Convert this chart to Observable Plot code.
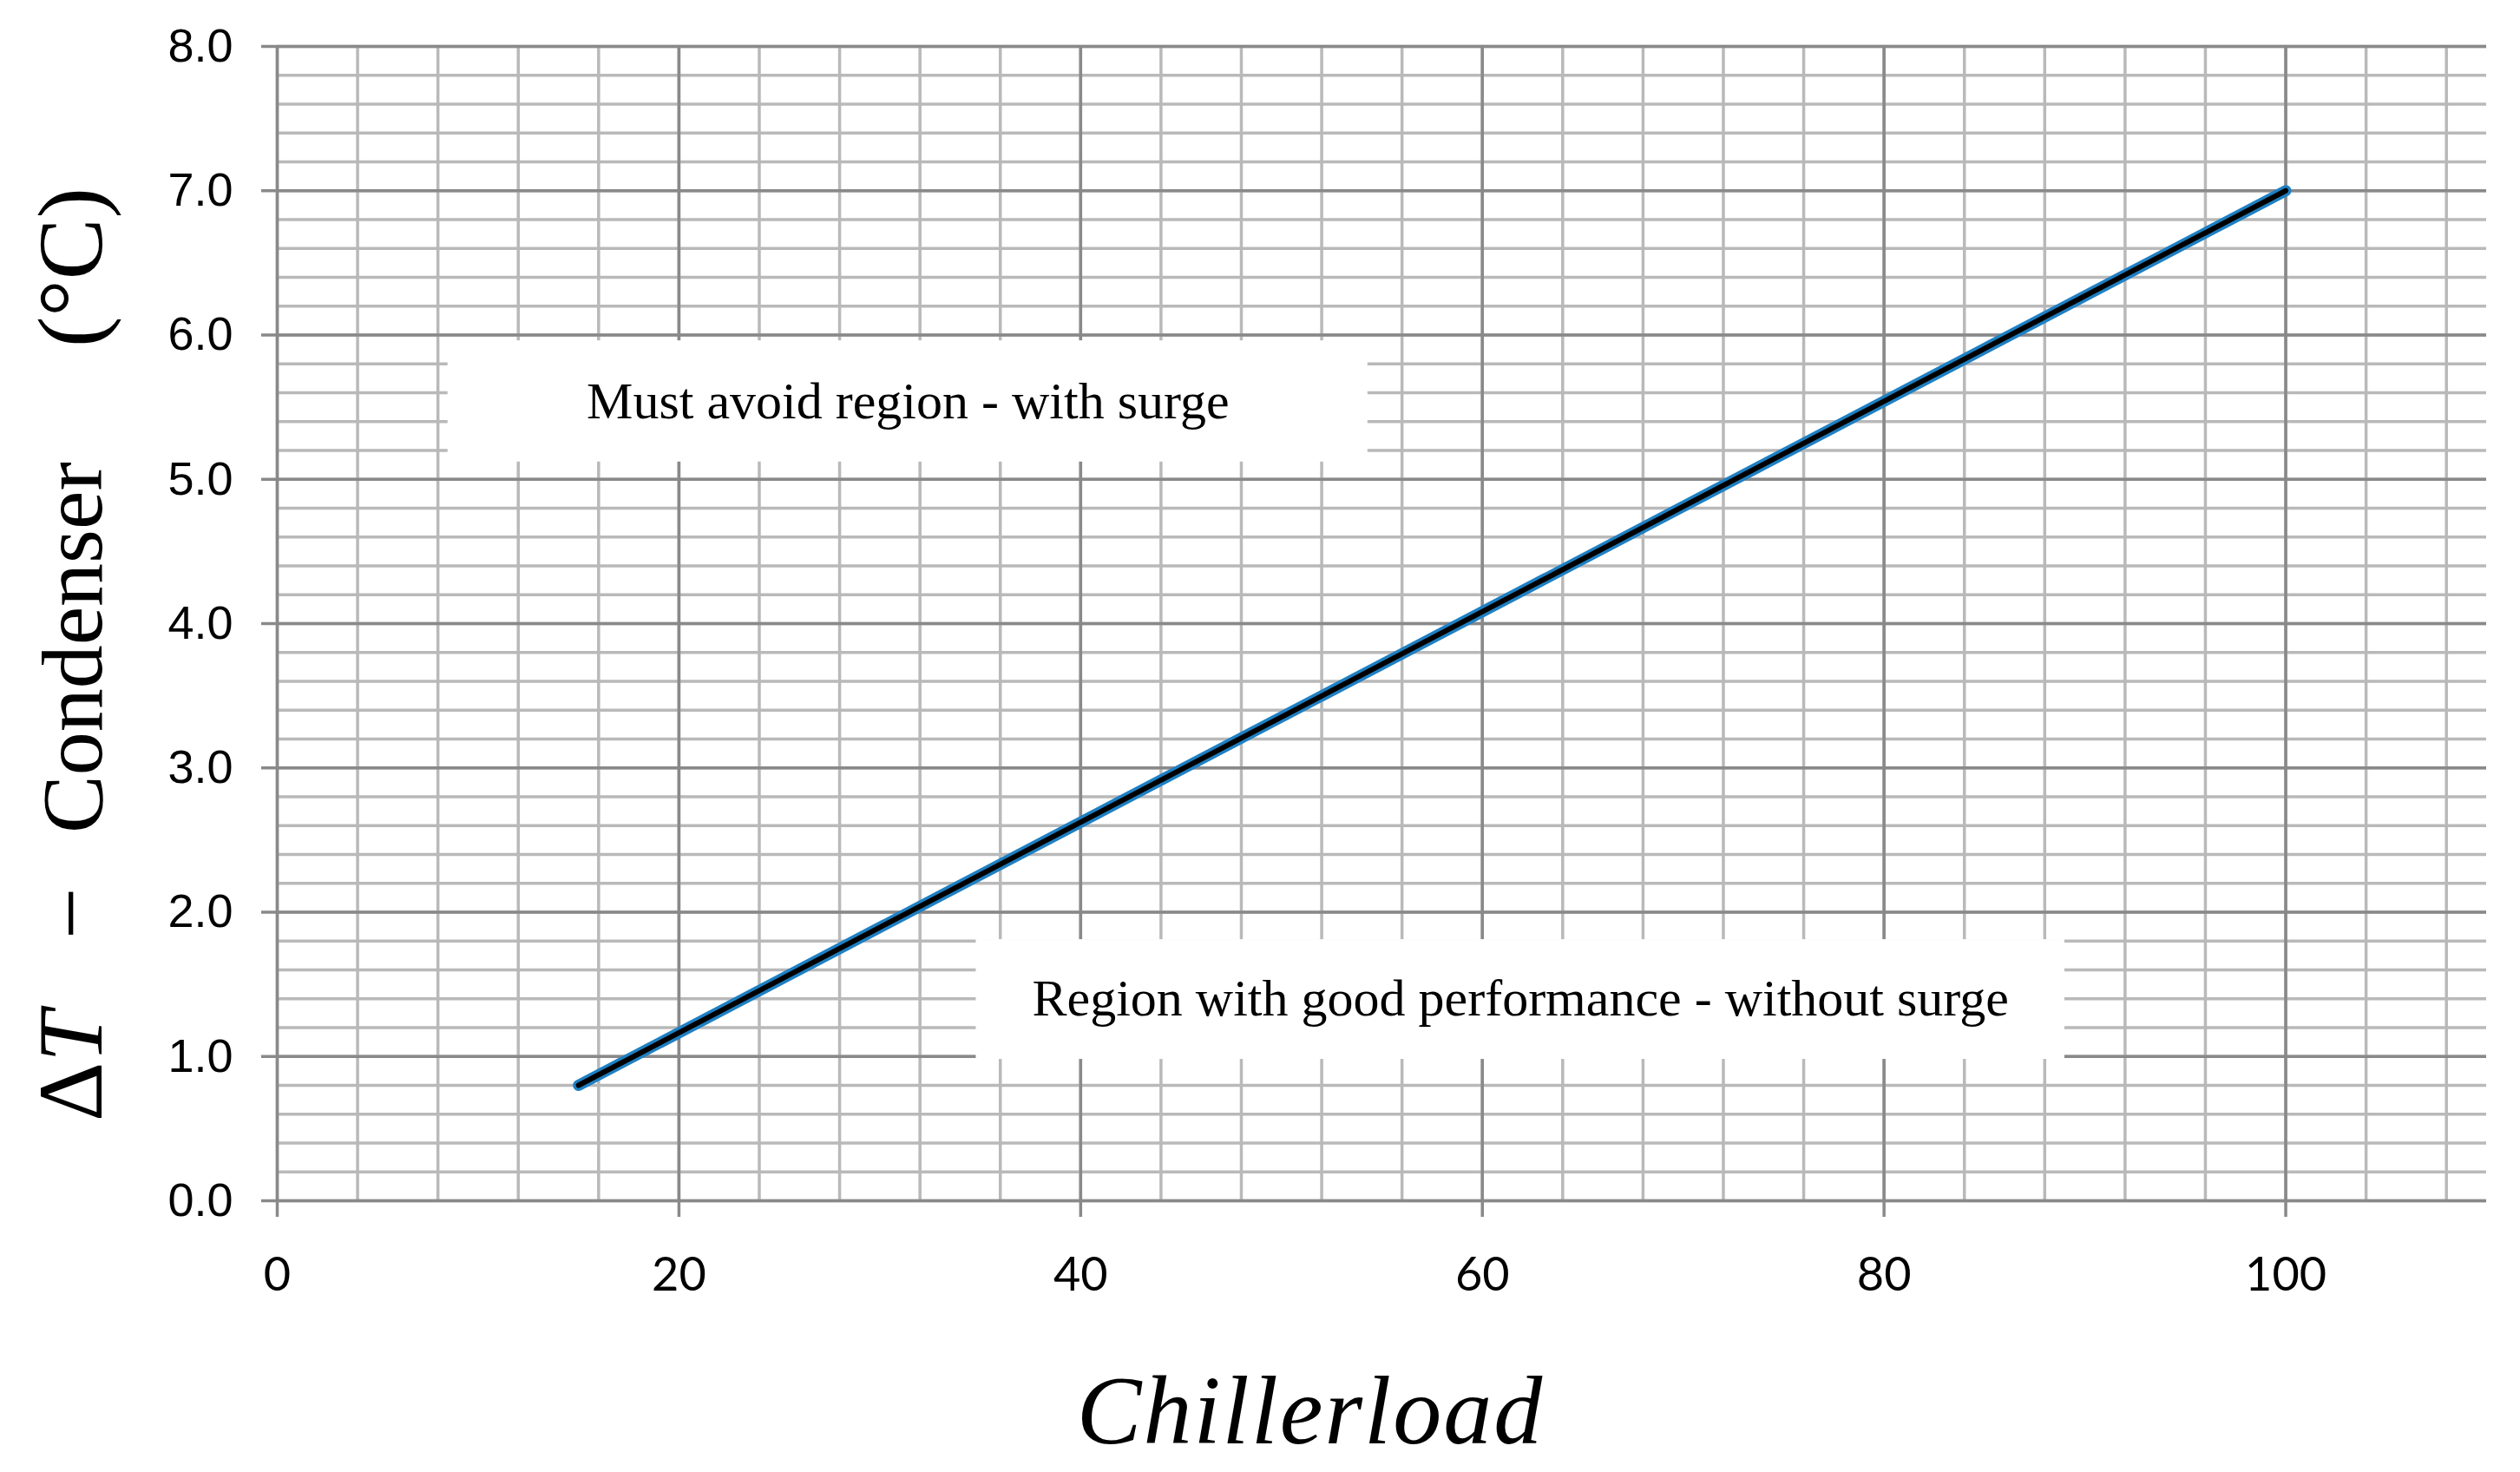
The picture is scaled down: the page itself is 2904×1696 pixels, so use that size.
<!DOCTYPE html>
<html>
<head>
<meta charset="utf-8">
<script src="https://cdn.jsdelivr.net/npm/d3@7"></script>
<script src="https://cdn.jsdelivr.net/npm/@observablehq/plot@0.6"></script>
<style>
  html, body { margin: 0; padding: 0; background: #fff; }
  #chart svg { display: block; }
</style>
</head>
<body>
<div id="chart"></div>
<script>
// ---- data ----
const chillerLoad = [15, 100];          // x (Chiller load)
const deltaT = [0.8, 7.0];              // y (ΔT condenser, °C)

const xTicks = [0, 20, 40, 60, 80, 100];
const yTicks = [0, 1, 2, 3, 4, 5, 6, 7, 8];
const yTickLabels = ["0.0", "1.0", "2.0", "3.0", "4.0", "5.0", "6.0", "7.0", "8.0"];
const xMinorStep = 4;
const yMinorStep = 0.2;

const annLabels = ["Must avoid region - with surge", "Region with good performance - without surge"];
const annX = [31.4, 61.9];
const annY = [5.54, 1.40];
const boxX1 = [8.5, 34.8];
const boxX2 = [54.3, 89.0];
const boxY1 = [5.12, 0.98];
const boxY2 = [5.96, 1.81];

// ---- derived tables ----
const lineData = chillerLoad.map((x, i) => ({x, y: deltaT[i]}));
const boxes = annLabels.map((label, i) => ({
  label, tx: annX[i], ty: annY[i], x1: boxX1[i], x2: boxX2[i], y1: boxY1[i], y2: boxY2[i]
}));
const xMinor = d3.range(0, 110, xMinorStep);
const yMinor = d3.range(0, 41).map(i => +(i * yMinorStep).toFixed(1));

const minorColor = "#b9b9b9";
const majorColor = "#898989";
const gw = 3.5;

const plot = Plot.plot({
  width: 2904,
  height: 1696,
  marginLeft: 319,
  marginRight: 39,
  marginTop: 53,
  marginBottom: 313,
  style: {background: "white"},
  x: {domain: [0, 110]},
  y: {domain: [0, 8]},
  marks: [
    Plot.ruleX(xMinor, {stroke: minorColor, strokeWidth: gw}),
    Plot.ruleY(yMinor, {stroke: minorColor, strokeWidth: gw}),
    Plot.ruleX(xTicks, {stroke: majorColor, strokeWidth: gw}),
    Plot.ruleY(yTicks, {stroke: majorColor, strokeWidth: gw}),
    Plot.rect(boxes, {x1: "x1", x2: "x2", y1: "y1", y2: "y2", fill: "white"}),
    Plot.line(lineData, {x: "x", y: "y", stroke: "#1f80c3", strokeWidth: 13, strokeLinecap: "round"}),
    Plot.line(lineData, {x: "x", y: "y", stroke: "black", strokeWidth: 6, strokeLinecap: "round"}),
    Plot.text(boxes, {x: "tx", y: "ty", text: "label", fontFamily: "Liberation Serif", fontSize: 60, fill: "black"}),
    Plot.axisX({ticks: xTicks, tickSize: 19, tickPadding: 46, stroke: majorColor, strokeWidth: gw,
      fill: "black", fontSize: 54, fontFamily: "Lato", label: null}),
    Plot.axisY({ticks: yTicks, tickFormat: (d) => yTickLabels[yTicks.indexOf(d)], tickSize: 18, tickPadding: 33,
      stroke: majorColor, strokeWidth: gw, fill: "black", fontSize: 54, fontFamily: "Liberation Sans", label: null})
  ]
});

document.getElementById("chart").appendChild(plot);

// ---- axis titles (real text) ----
const svg = d3.select(plot);
svg.append("text")
  .attr("x", 1510)
  .attr("y", 1663)
  .attr("text-anchor", "middle")
  .attr("font-family", "Liberation Serif")
  .attr("font-style", "italic")
  .attr("font-size", 112)
  .attr("letter-spacing", 2)
  .attr("fill", "black")
  .text("Chillerload");

const yt = svg.append("text")
  .attr("transform", "translate(117,0) rotate(-90)")
  .attr("text-anchor", "start")
  .attr("font-family", "Liberation Serif")
  .attr("font-size", 106)
  .attr("fill", "black");
yt.append("tspan").attr("x", -1292).text("Δ");
yt.append("tspan").attr("font-style", "italic").text("T");
yt.append("tspan").attr("x", -1082).text("−");
yt.append("tspan").attr("x", -960).attr("font-size", 100).text("Condenser");
yt.append("tspan").attr("x", -400).text("(°C)");
</script>
</body>
</html>
